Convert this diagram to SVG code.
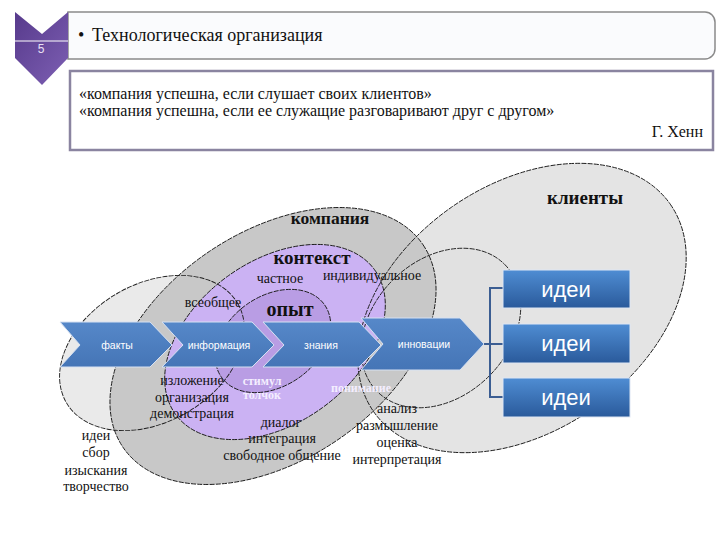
<svg xmlns="http://www.w3.org/2000/svg" width="720" height="540" viewBox="0 0 720 540">
<defs>
  <linearGradient id="hdr" x1="0" y1="0" x2="1" y2="1">
    <stop offset="0" stop-color="#573a8c"/>
    <stop offset="1" stop-color="#7d5fb3"/>
  </linearGradient>
  <linearGradient id="idea" x1="0" y1="0" x2="0" y2="1">
    <stop offset="0" stop-color="#4f8dd3"/>
    <stop offset="1" stop-color="#2a5a9b"/>
  </linearGradient>
  <linearGradient id="chev" x1="0" y1="0" x2="0" y2="1">
    <stop offset="0" stop-color="#5688c9"/>
    <stop offset="1" stop-color="#4575b6"/>
  </linearGradient>
</defs>
<style>
  .serif{font-family:"Liberation Serif","Times New Roman",serif;fill:#111}
  .lbl{font-size:14px;text-anchor:middle}
  .big{font-weight:bold;text-anchor:middle}
  .sans{font-family:"Liberation Sans",Arial,sans-serif}
  .ctext{fill:#fff;font-size:10.5px;text-anchor:middle}
  .wtext{fill:#f4eeff;font-weight:bold;font-size:12px;text-anchor:middle}
  .outline{fill:none;stroke:#1c1c1c;stroke-width:0.9;stroke-dasharray:5 1.2}
  .chev{fill:url(#chev);stroke:#d6e1f2;stroke-width:1}
  .idea{fill:url(#idea);stroke:#dde6f3;stroke-width:1}
  .itext{fill:#fff;font-size:22px;text-anchor:middle}
  .conn{fill:none;stroke:#3b5d92;stroke-width:2}
</style>
<rect x="0" y="0" width="720" height="540" fill="#ffffff"/>

<!-- header -->
<g id="header">
  <path d="M68,12 H705 A10,10 0 0 1 715,22 V49 A10,10 0 0 1 705,59 H68 Z" fill="#fafbfd" stroke="#8a8a8a" stroke-width="1.5"/>
  <polygon points="15,12 42,34 68,12 68,58 42,85 15,58" fill="url(#hdr)"/>
  <line x1="15" y1="41" x2="68" y2="41" stroke="#ffffff" stroke-width="1"/>
  <text x="41" y="53" class="sans" font-size="12" fill="#e8e0f5" text-anchor="middle">5</text>
  <text x="78" y="41" class="serif" font-size="18">•</text>
  <text x="92" y="41" class="serif" font-size="18">Технологическая организация</text>
</g>

<!-- quote -->
<g id="quote">
  <rect x="70" y="71" width="643" height="79" fill="#ffffff" stroke="#8a84a0" stroke-width="2.5"/>
  <text x="79" y="99" class="serif" font-size="16">«компания успешна, если слушает своих клиентов»</text>
  <text x="79" y="116" class="serif" font-size="16">«компания успешна, если ее служащие разговаривают друг с другом»</text>
  <text x="703" y="137" class="serif" font-size="16" text-anchor="end">Г. Хенн</text>
</g>

<!-- ellipse fills -->
<g id="clients"><ellipse cx="522" cy="308" rx="181" ry="123" transform="rotate(-35 522 308)" fill="#e4e4e4"/></g>
<g id="bridge"><ellipse cx="441" cy="328" rx="90" ry="68" transform="rotate(-45 441 328)" fill="#e1e1e1"/></g>
<g id="ideas-area"><ellipse cx="152" cy="353" rx="99" ry="69" transform="rotate(-30 152 353)" fill="#eaeaea"/></g>
<g id="company"><ellipse cx="273" cy="346" rx="181" ry="114" transform="rotate(-34 273 346)" fill="#c8c8c8"/></g>
<g id="context"><ellipse cx="275" cy="342" rx="123" ry="81" transform="rotate(-36 275 342)" fill="#cbb2f3"/></g>
<g id="experience"><ellipse cx="273" cy="341" rx="63" ry="45" transform="rotate(-35 273 341)" fill="#b99de4"/></g>

<!-- ellipse outlines -->
<g id="outlines">
  <ellipse class="outline" cx="522" cy="308" rx="181" ry="123" transform="rotate(-35 522 308)"/>
  <ellipse class="outline" cx="441" cy="328" rx="90" ry="68" transform="rotate(-45 441 328)"/>
  <ellipse class="outline" cx="152" cy="353" rx="99" ry="69" transform="rotate(-30 152 353)"/>
  <ellipse class="outline" cx="273" cy="346" rx="181" ry="114" transform="rotate(-34 273 346)"/>
  <ellipse class="outline" cx="275" cy="342" rx="123" ry="81" transform="rotate(-36 275 342)"/>
  <ellipse class="outline" cx="273" cy="341" rx="63" ry="45" transform="rotate(-35 273 341)"/>
</g>

<!-- connectors -->
<g id="connectors">
  <polyline class="conn" points="503,288 490,288 490,397 503,397"/>
  <line class="conn" x1="483" y1="344" x2="503" y2="344"/>
</g>

<!-- chevrons -->
<g id="facts">
  <polygon class="chev" points="60,322 150,322 172,345 150,367 60,367 80,345"/>
  <text x="117" y="348.5" class="sans ctext">факты</text>
</g>
<g id="information">
  <polygon class="chev" points="162,322 252,322 274,345 252,367 162,367 183,345"/>
  <text x="219" y="348.5" class="sans ctext">информация</text>
</g>
<g id="knowledge">
  <polygon class="chev" points="263,322 359,322 381,345 359,367 263,367 284,345"/>
  <text x="321" y="348.5" class="sans ctext">знания</text>
</g>
<g id="innovation">
  <polygon class="chev" points="361,318 460,318 484,344 460,370 361,370 383,344"/>
  <text x="424" y="348" class="sans ctext">инновации</text>
</g>

<!-- idea boxes -->
<g id="idea1">
  <rect class="idea" x="503" y="270" width="127" height="38"/>
  <text x="566" y="297" class="sans itext">идеи</text>
</g>
<g id="idea2">
  <rect class="idea" x="503" y="324" width="127" height="39"/>
  <text x="566" y="351" class="sans itext">идеи</text>
</g>
<g id="idea3">
  <rect class="idea" x="503" y="378" width="127" height="39"/>
  <text x="566" y="405" class="sans itext">идеи</text>
</g>

<!-- labels -->
<g id="labels">
  <text x="585" y="204" class="serif big" font-size="19">клиенты</text>
  <text x="330" y="224" class="serif big" font-size="17.5">компания</text>
  <text x="312" y="264" class="serif big" font-size="19">контекст</text>
  <text x="290" y="316" class="serif big" font-size="20">опыт</text>
  <text x="280" y="283" class="serif lbl">частное</text>
  <text x="372" y="280" class="serif lbl">индивидуальное</text>
  <text x="213" y="307" class="serif lbl">всеобщее</text>
  <text x="192" y="385" class="serif lbl">изложение</text>
  <text x="192" y="402" class="serif lbl">организация</text>
  <text x="192" y="418" class="serif lbl">демонстрация</text>
  <text x="262" y="385" class="serif wtext">стимул</text>
  <text x="262" y="399" class="serif wtext">толчок</text>
  <text x="361" y="392" class="serif wtext">понимание</text>
  <text x="96" y="440" class="serif lbl">идеи</text>
  <text x="96" y="457" class="serif lbl">сбор</text>
  <text x="96" y="475" class="serif lbl">изыскания</text>
  <text x="96" y="491" class="serif lbl">творчество</text>
  <text x="281" y="427" class="serif lbl">диалог</text>
  <text x="282" y="443" class="serif lbl">интеграция</text>
  <text x="282" y="460" class="serif lbl">свободное общение</text>
  <text x="397" y="413" class="serif lbl">анализ</text>
  <text x="397" y="430" class="serif lbl">размышление</text>
  <text x="397" y="447" class="serif lbl">оценка</text>
  <text x="397" y="464" class="serif lbl">интерпретация</text>
</g>
</svg>
